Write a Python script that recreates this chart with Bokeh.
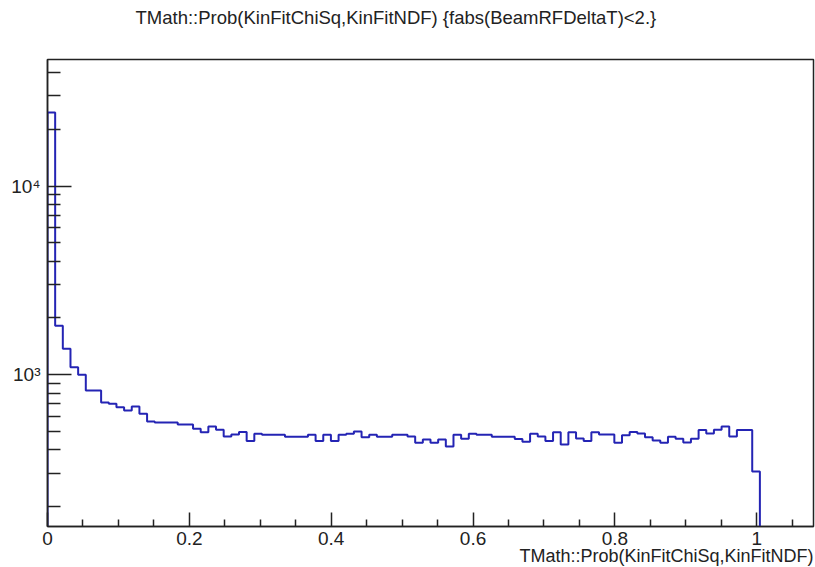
import numpy as np
from bokeh.plotting import figure
from bokeh.models import FixedTicker, CustomJSTickFormatter, Title, Range1d
from bokeh.embed import file_html
from bokeh.resources import INLINE

# ---- data ----
x_min, x_max, n_bins = 0.0, 1.08, 100
counts = [24500, 1820, 1374, 1097, 1000, 826, 826, 713, 701, 673,
          647, 679, 621, 565, 558, 558, 558, 545, 545, 517,
          496, 532, 511, 471, 483, 498, 445, 487, 481, 481,
          481, 469, 469, 469, 481, 445, 481, 445, 481, 487,
          500, 467, 481, 469, 469, 481, 481, 471, 436, 454,
          436, 454, 417, 481, 458, 487, 481, 481, 469, 469,
          469, 456, 441, 487, 471, 445, 496, 427, 496, 459,
          445, 496, 483, 483, 436, 478, 498, 489, 467, 448,
          436, 469, 458, 438, 458, 509, 489, 511, 532, 471,
          509, 509, 307, 0, 0, 0, 0, 0, 0, 0]
y_lo, y_hi = 157, 46800
y_ticks = [1000, 10000]
y_minor = [200, 300, 400, 500, 600, 700, 800, 900,
           2000, 3000, 4000, 5000, 6000, 7000, 8000, 9000,
           20000, 30000, 40000]
x_ticks = [0.0, 0.2, 0.4, 0.6, 0.8, 1.0]
x_minor = [0.05, 0.1, 0.15, 0.25, 0.3, 0.35, 0.45, 0.5, 0.55,
           0.65, 0.7, 0.75, 0.85, 0.9, 0.95, 1.05]
title_text = "TMath::Prob(KinFitChiSq,KinFitNDF) {fabs(BeamRFDeltaT)<2.}"
x_title = "TMath::Prob(KinFitChiSq,KinFitNDF)"

FONT = "Liberation Sans"
LINE_COLOR = "#2424b4"
INK = "#222222"

p = figure(width=815, height=567, y_axis_type="log", title=title_text,
           x_range=Range1d(x_min, x_max), y_range=Range1d(y_lo, y_hi),
           output_backend="svg", toolbar_location=None,
           min_border_left=47, min_border_right=2,
           min_border_top=59, min_border_bottom=41)
p.title.align = "left"
p.title.offset = 88
p.title.text_font = FONT
p.title.text_font_size = "18.5px"
p.title.text_font_style = "normal"
p.title.text_color = INK
p.title.standoff = 4
p.title.vertical_align = "bottom"
# invisible spacer between the frame and the title, to lift the title
p.add_layout(Title(text=" ", text_font_size="2px", standoff=26), "above")

p.xgrid.grid_line_color = None
p.ygrid.grid_line_color = None
p.outline_line_color = INK
p.outline_line_width = 1.5
p.background_fill_color = "white"
p.border_fill_color = "white"

# histogram outline (steps)
edges = np.linspace(x_min, x_max, n_bins + 1)
floor_val = 1.0
vals = np.array([c if c > 0 else floor_val for c in counts], dtype=float)
xs = np.concatenate([[edges[0]], np.repeat(edges, 2)[1:-1]])
ys = np.concatenate([[floor_val], np.repeat(vals, 2)])
p.line(xs, ys, line_color=LINE_COLOR, line_width=2)

# x axis
xa = p.xaxis[0]
xa.ticker = FixedTicker(ticks=x_ticks, minor_ticks=x_minor)
xa.formatter = CustomJSTickFormatter(code="return String(Math.round(tick*10)/10);")
xa.major_tick_in = 14
xa.major_tick_out = 0
xa.minor_tick_in = 7
xa.minor_tick_out = 0

# y axis
ya = p.yaxis[0]
ya.ticker = FixedTicker(ticks=y_ticks, minor_ticks=y_minor)
ya.formatter = CustomJSTickFormatter(code="""
const sup = ['\u2070','\u00b9','\u00b2','\u00b3','\u2074','\u2075','\u2076','\u2077','\u2078','\u2079'];
const e = Math.round(Math.log10(tick));
return '10' + String(e).split('').map(d => sup[+d]).join('');
""")
ya.major_tick_in = 24
ya.major_tick_out = 0
ya.minor_tick_in = 13
ya.minor_tick_out = 0

for a in (xa, ya):
    a.axis_line_color = INK
    a.axis_line_width = 1.5
    a.major_tick_line_color = INK
    a.minor_tick_line_color = INK
    a.major_tick_line_width = 1.5
    a.minor_tick_line_width = 1.5
    a.major_label_text_font = FONT
    a.major_label_text_font_size = "19px"
    a.major_label_text_color = INK
xa.major_label_standoff = 5
ya.major_label_standoff = 7

# x-axis title, right aligned under the frame
xt = Title(text=x_title, align="right", text_font=FONT, text_font_size="18px",
           text_font_style="normal", text_color=INK, vertical_align="top")
try:
    xt.standoff = -4
except Exception:
    xt.standoff = 0
p.add_layout(xt, "below")

open("out.html", "w").write(file_html(p, INLINE))
